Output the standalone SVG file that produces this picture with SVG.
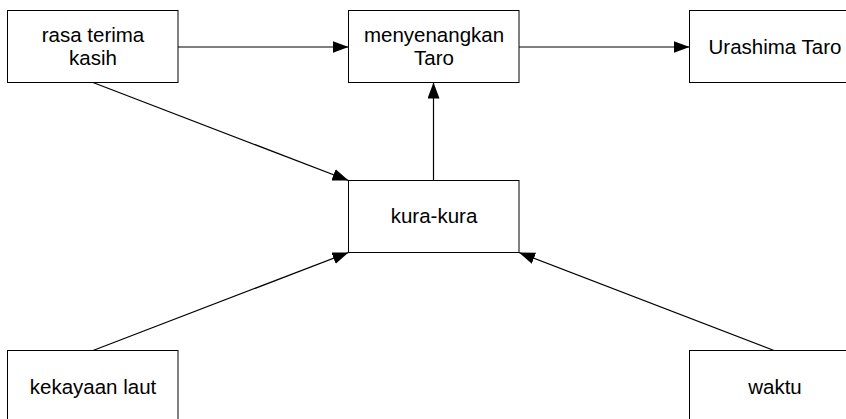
<svg xmlns="http://www.w3.org/2000/svg" width="846" height="419" viewBox="0 0 846 419">
  <style>
    .box { fill: #ffffff; stroke: #000000; stroke-width: 1; }
    .label { font-family: "Liberation Sans", Arial, sans-serif; font-size: 20.5px; fill: #000000; text-anchor: middle; }
    .edge { fill: none; stroke: #000000; stroke-width: 1.2; marker-end: url(#arrow); }
  </style>
  <defs>
    <marker id="arrow" viewBox="0 0 16 12" refX="16" refY="6" markerWidth="16" markerHeight="12" markerUnits="userSpaceOnUse" orient="auto">
      <path d="M0,0 L16,6 L0,12 Z" fill="#000000"/>
    </marker>
  </defs>
  <rect width="846" height="419" fill="#ffffff"/>

  <g id="connectors">
    <line class="edge" x1="178" y1="47" x2="348.5" y2="47"/>
    <line class="edge" x1="519" y1="47" x2="689.5" y2="47"/>
    <line class="edge" x1="433.5" y1="180.5" x2="433.5" y2="82.5"/>
    <line class="edge" x1="93" y1="82.5" x2="348.5" y2="180.5"/>
    <line class="edge" x1="93" y1="350.5" x2="348.5" y2="252.5"/>
    <line class="edge" x1="774" y1="350.5" x2="519" y2="252.5"/>
  </g>

  <g id="rasa-terima-kasih">
    <rect class="box" x="7.5" y="10.5" width="170.5" height="72"/>
    <text class="label" x="93" y="42">rasa terima</text>
    <text class="label" x="93" y="65">kasih</text>
  </g>

  <g id="menyenangkan-taro">
    <rect class="box" x="348.5" y="10.5" width="170.5" height="72"/>
    <text class="label" x="434" y="42">menyenangkan</text>
    <text class="label" x="434" y="65">Taro</text>
  </g>

  <g id="urashima-taro">
    <rect class="box" x="689.5" y="10.5" width="170.5" height="72"/>
    <text class="label" x="775" y="54">Urashima Taro</text>
  </g>

  <g id="kura-kura">
    <rect class="box" x="348.5" y="180.5" width="170.5" height="72"/>
    <text class="label" x="434" y="223">kura-kura</text>
  </g>

  <g id="kekayaan-laut">
    <rect class="box" x="7.5" y="350.5" width="170.5" height="72"/>
    <text class="label" x="93" y="393.5">kekayaan laut</text>
  </g>

  <g id="waktu">
    <rect class="box" x="689.5" y="350.5" width="170.5" height="72"/>
    <text class="label" x="775" y="393.5">waktu</text>
  </g>
</svg>
